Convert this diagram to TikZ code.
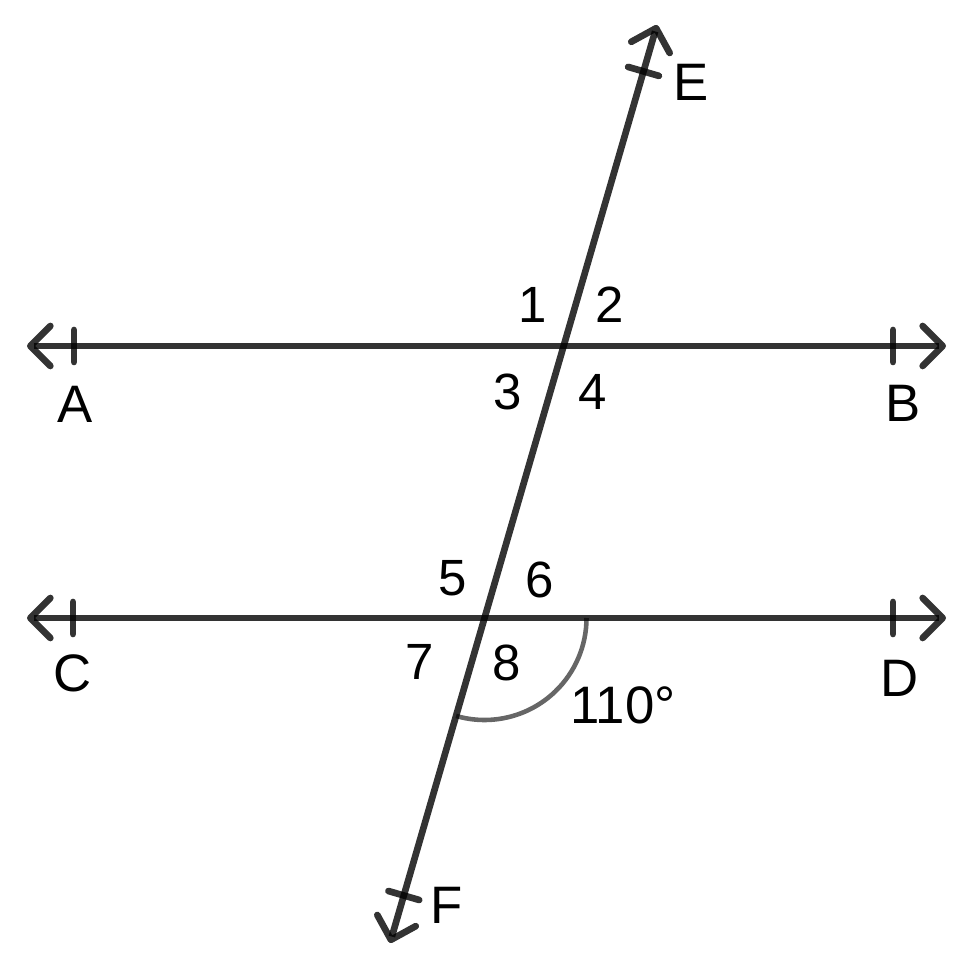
\documentclass[tikz,border=0pt]{standalone}
\usepackage{fontspec}
\setmainfont{Liberation Sans}
\usetikzlibrary{arrows.meta,calc}
\colorlet{line edge}{black}
\colorlet{angle edge}{black}
\tikzset{parline/.style={draw=line edge, draw opacity=0.8, line width=1.9pt,
      {Straight Barb[length=2mm,width=4mm,round]}-{Straight Barb[length=2mm,width=4mm,round]}},
    tickmark/.style={draw=line edge, draw opacity=0.8, line width=1.9pt, line cap=round},
    anglearc/.style={draw=angle edge, draw opacity=0.6, line width=1.3pt},
    letter/.style={inner sep=0pt, font=\fontsize{15}{18}\selectfont},
    num/.style={inner sep=0pt, font=\fontsize{14.5}{17}\selectfont}}

\begin{document}
\begin{tikzpicture}
    \useasboundingbox (0,0) rectangle (9.73,9.70);
    \coordinate (AL) at (0.27,6.24);
    \coordinate (BR) at (9.46,6.24);
    \coordinate (CL) at (0.27,3.52);
    \coordinate (DR) at (9.46,3.52);
    \coordinate (ET) at (6.57,9.45);
    \coordinate (FB) at (3.90,0.27);
    \coordinate (P) at (intersection of AL--BR and FB--ET);
    \coordinate (Q) at (intersection of CL--DR and FB--ET);
    % angle 8
    \draw[anglearc] ($(Q)+(253.8:1.02)$) arc[start angle=253.8, end angle=360, radius=1.02];
    % the three lines
    \draw[parline] (AL) -- (BR);
    \draw[parline] (CL) -- (DR);
    \draw[parline] (FB) -- (ET);
    % ticks
    \foreach \x/\y in {0.74/6.24, 8.93/6.24, 0.73/3.52, 8.93/3.52}
        \draw[tickmark] (\x,\y+0.16) -- (\x,\y-0.16);
    \coordinate (Et) at ($(P)!2.86cm!(ET)$);
    \coordinate (Ft) at ($(Q)!2.89cm!(FB)$);
    \draw[tickmark] ($(Et)!0.16cm!90:(ET)$) -- ($(Et)!0.16cm!-90:(ET)$);
    \draw[tickmark] ($(Ft)!0.16cm!90:(FB)$) -- ($(Ft)!0.16cm!-90:(FB)$);
    % labels
    \node[letter] (A) at (0.75,5.66) {A};
    \node[letter] (B) at (9.03,5.67) {B};
    \node[letter] (C) at (0.73,2.97) {C};
    \node[letter] (D) at (9.00,2.92) {D};
    \node[letter] (E) at (6.91,8.88) {E};
    \node[letter] (F) at (4.47,0.65) {F};
    \node[num] (a1) at (5.33,6.65) {1};
    \node[num] (a2) at (6.10,6.65) {2};
    \node[num] (a3) at (5.08,5.78) {3};
    \node[num] (a4) at (5.93,5.78) {4};
    \node[num] (a5) at (4.53,3.92) {5};
    \node[num] (a6) at (5.40,3.90) {6};
    \node[num] (a7) at (4.20,3.08) {7};
    \node[num] (a8) at (5.07,3.07) {8};
    \node[letter] (deg) at (6.23,2.65) {110°};
\end{tikzpicture}
\end{document}
